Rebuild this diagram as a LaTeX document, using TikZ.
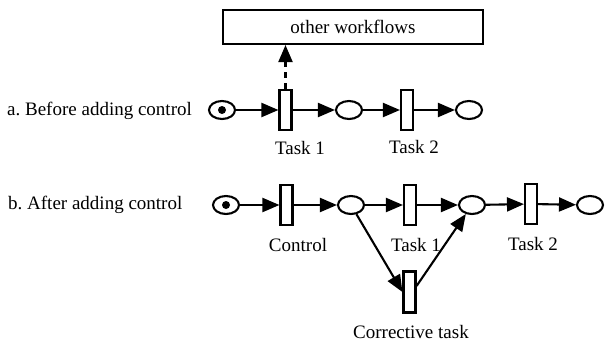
\documentclass[tikz,border=0pt]{standalone}
\usepackage{fontspec}
\setmainfont{Liberation Serif}
\newfontfamily\labelfont{Liberation Serif}
\usetikzlibrary{arrows.meta,shapes.geometric}
\frenchspacing
\begin{document}
\begin{tikzpicture}[x=1pt,y=-1pt,
  every node/.style={font=\labelfont\fontsize{19}{21}\selectfont},
  place/.style={draw,ellipse,line width=2.1pt,minimum width=26pt,minimum height=18pt,inner sep=0pt},
  trans/.style={draw,rectangle,line width=2.1pt,minimum width=12pt,minimum height=40pt,inner sep=0pt},
  token/.style={place,path picture={\fill (path picture bounding box.center) circle[radius=4pt];}},
  arc/.style={line width=2.1pt,-{Triangle[length=17pt,width=14pt]}},
  lbl/.style={inner sep=0pt}
]
\useasboundingbox (0,0) rectangle (605,346);

% external process box
\node[draw,line width=2.1pt,minimum width=260pt,minimum height=34pt,inner sep=0pt] (other) at (353,27) {other workflows};

% (a) net before the control step
\node[lbl,anchor=west] (la) at (7,111) {a. Before adding control};
\node[token] (a1) at (222,110) {};
\node[trans] (ta1) at (285.5,110) {};
\node[place] (a2) at (349,110) {};
\node[trans] (ta2) at (407,110) {};
\node[place] (a3) at (469,110) {};
\node[lbl] (lta1) at (300,148) {Task 1};
\node[lbl] (lta2) at (414,147) {Task 2};

\draw[arc] (a1) -- (ta1);
\draw[arc] (ta1) -- (a2);
\draw[arc] (a2) -- (ta2);
\draw[arc] (ta2) -- (a3);
\draw[arc,dash pattern=on 6pt off 5pt] (ta1.north) -- (ta1.north |- other.south);

% (b) net with the control step and corrective branch
\node[lbl,anchor=west] (lb) at (8,205) {b. After adding control};
\node[token] (b1) at (226,205) {};
\node[trans] (ctl) at (286.5,205) {};
\node[place] (b2) at (351,205) {};
\node[trans] (tb1) at (410,205) {};
\node[place] (b3) at (472,205) {};
\node[trans] (tb2) at (531,204) {};
\node[place] (b4) at (590,205) {};
\node[trans,minimum height=41pt] (corr) at (409.5,292) {};
\node[lbl] (lctl) at (298,245) {Control};
\node[lbl] (ltb1) at (416,245) {Task 1};
\node[lbl] (ltb2) at (533,244) {Task 2};
\node[lbl] (lcorr) at (411,332) {Corrective task};

\draw[arc] (b1) -- (ctl);
\draw[arc] (ctl) -- (b2);
\draw[arc] (b2) -- (tb1);
\draw[arc] (tb1) -- (b3);
\draw[arc] (b3) -- (tb2);
\draw[arc] (tb2) -- (b4);
\draw[arc] (b2) -- (corr.west);
\draw[arc] ([yshift=6pt]corr.east) -- (b3);
\end{tikzpicture}
\end{document}
